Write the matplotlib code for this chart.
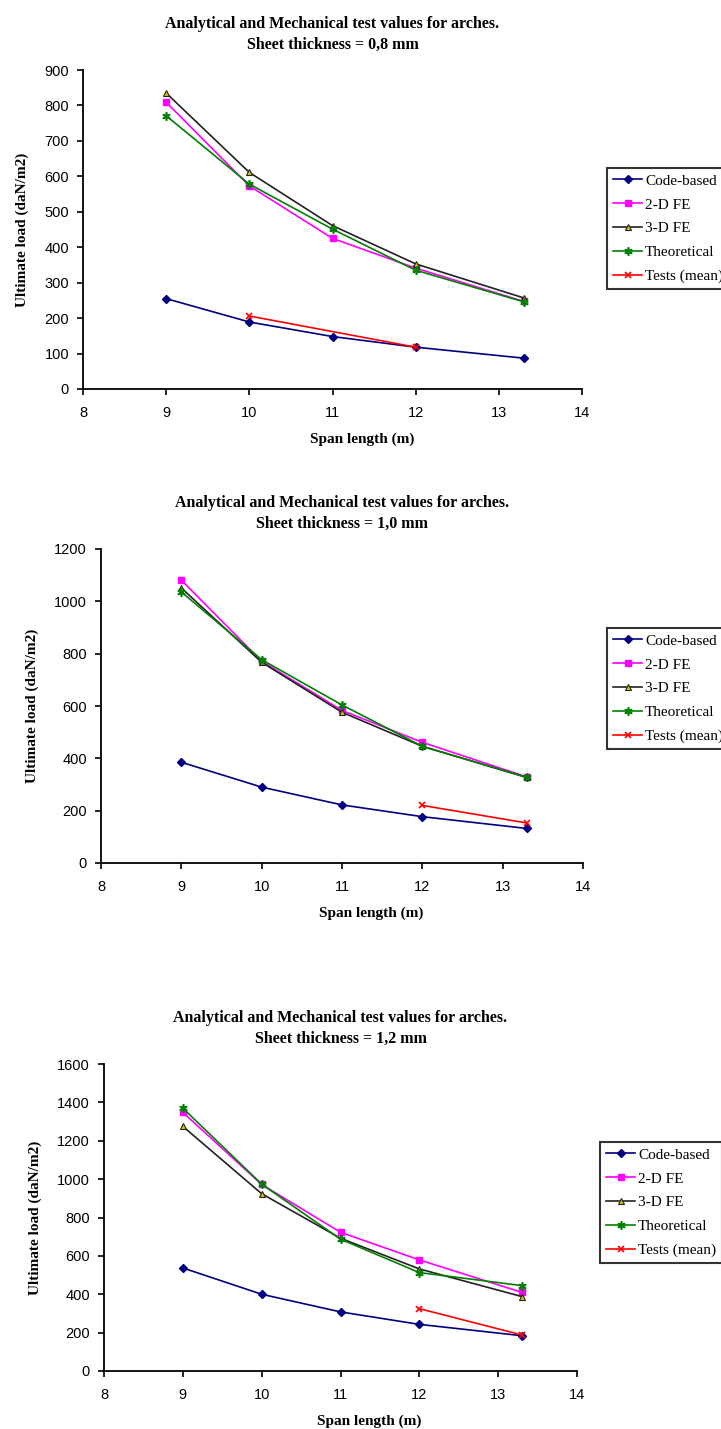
import numpy as np
import matplotlib
matplotlib.use("Agg")
from matplotlib import pyplot as plt

# span lengths (m)
span = [9, 10, 11, 12, 13.3]
tests_span_08 = [10, 12]
tests_span = [12, 13.3]

# sheet thickness 0,8 mm
code_08 = [255, 189, 148, 118, 87]
fe2d_08 = [809, 573, 425, 341, 247]
fe3d_08 = [835, 611, 461, 353, 257]
theo_08 = [771, 578, 451, 335, 246]
tests_08 = [206, 118]

# sheet thickness 1,0 mm
code_10 = [385, 290, 222, 177, 132]
fe2d_10 = [1081, 771, 583, 461, 329]
fe3d_10 = [1051, 767, 576, 446, 327]
theo_10 = [1036, 777, 604, 446, 327]
tests_10 = [220, 153]

# sheet thickness 1,2 mm
code_12 = [537, 400, 308, 243, 184]
fe2d_12 = [1348, 972, 723, 579, 410]
fe3d_12 = [1275, 924, 692, 532, 388]
theo_12 = [1370, 974, 687, 513, 445]
tests_12 = [325, 188]

labels = ["Code-based", "2-D FE", "3-D FE", "Theoretical", "Tests (mean)"]
thickness = ["0,8", "1,0", "1,2"]
ymax = [900, 1200, 1600]
ystep = [100, 200, 200]

W, H = 721, 1429
fig = plt.figure(figsize=(W / 100, H / 100), dpi=100)

serif = "Liberation Serif"
sans = "Liberation Sans"


def box(l, r, t, b):
    return [l / W, 1 - b / H, (r - l) / W, (b - t) / H]


axes_px = [(83, 582, 70, 389), (101, 583, 549, 863), (104, 577, 1064, 1371)]
legend_px = [(607, 168), (607, 628), (600, 1142)]

data = [
    (code_08, fe2d_08, fe3d_08, theo_08, tests_span_08, tests_08),
    (code_10, fe2d_10, fe3d_10, theo_10, tests_span, tests_10),
    (code_12, fe2d_12, fe3d_12, theo_12, tests_span, tests_12),
]

for i in range(3):
    code, fe2d, fe3d, theo, tx, tests = data[i]
    ax = fig.add_axes(box(*axes_px[i]))

    ax.plot(span, code, color="#000080", lw=1.2, marker="D", ms=4, label=labels[0])
    ax.plot(span, fe2d, color="#ff00ff", lw=1.2, marker="s", ms=4.5, label=labels[1])
    ax.plot(span, fe3d, color="#222222", lw=1.2, marker="^", ms=5,
            mfc="#d4c400", mec="#222222", mew=0.8, label=labels[2])
    ax.plot(span, theo, color="#008000", lw=1.2, marker=(6, 2, 0), ms=6,
            mew=1.2, label=labels[3])
    ax.plot(tx, tests, color="#ff0000", lw=1.2, marker="x", ms=5,
            mew=1.2, label=labels[4])

    ax.set_xlim(8, 14)
    ax.set_ylim(0, ymax[i])
    ax.set_xticks(np.arange(8, 15, 1))
    ax.set_yticks(np.arange(0, ymax[i] + 1, ystep[i]))
    for s in ["top", "right"]:
        ax.spines[s].set_visible(False)
    for s in ["left", "bottom"]:
        ax.spines[s].set_linewidth(1.3)
    ax.tick_params(axis="both", length=4, width=1.2, labelsize=10.5)
    ax.tick_params(axis="x", pad=8)
    ax.tick_params(axis="y", pad=6)
    for t in ax.get_xticklabels() + ax.get_yticklabels():
        t.set_fontfamily(sans)

    ax.set_title("Analytical and Mechanical test values for arches.\n"
                 "Sheet thickness = " + thickness[i] + " mm",
                 fontfamily=serif, fontweight="bold", fontsize=11.5,
                 linespacing=1.45, pad=15)
    ax.set_xlabel("Span length (m)", fontfamily=serif, fontweight="bold",
                  fontsize=11, labelpad=9)
    # the axis title sits a little right of the plot centre
    ax.xaxis.label.set_x(0.56)
    ax.set_ylabel("Ultimate load (daN/m2)", fontfamily=serif, fontweight="bold",
                  fontsize=11, labelpad=11)

    lx, ly = legend_px[i]
    leg = ax.legend(loc="upper left", bbox_to_anchor=(lx / W, 1 - ly / H),
                    bbox_transform=fig.transFigure, borderaxespad=0,
                    frameon=True, fancybox=False, edgecolor="black",
                    prop={"family": serif, "size": 11}, labelspacing=0.66,
                    borderpad=0.4, handlelength=1.9, handletextpad=0.2)
    leg.get_frame().set_linewidth(1.5)

fig.savefig("out.png", dpi=100)
